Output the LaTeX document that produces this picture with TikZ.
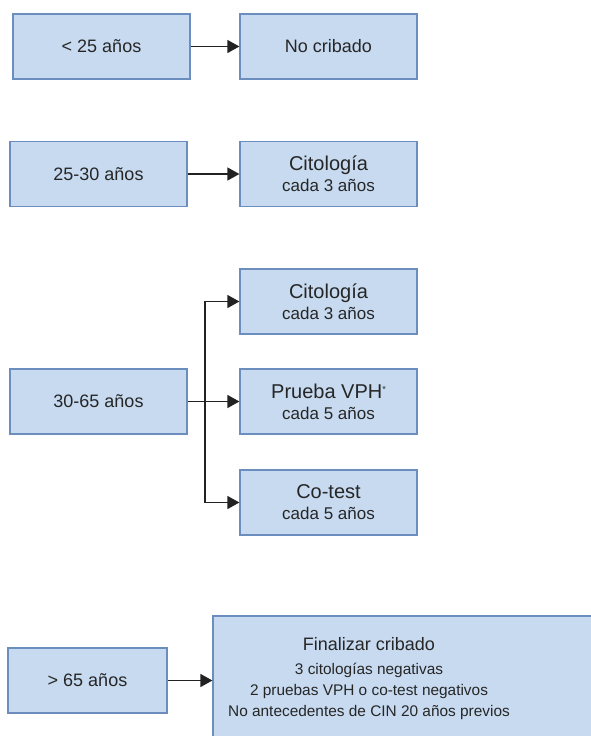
\documentclass[tikz,border=0pt]{standalone}
\usepackage{fontspec}
\setmainfont{Liberation Sans}
\usetikzlibrary{arrows.meta}

\definecolor{cajafondo}{HTML}{C7DAF0}
\definecolor{cajaborde}{HTML}{6C8EBF}
\definecolor{linea}{HTML}{222222}

\tikzset{
  caja/.style={draw=cajaborde, fill=cajafondo, line width=1.2pt,
    minimum width=177pt, minimum height=65pt, inner sep=0pt,
    align=center, text=black!85, font=\fontsize{18}{22}\selectfont},
  flecha/.style={draw=linea, line width=1.3pt, -{Triangle[length=12pt,width=13pt]}},
}
\newcommand{\titulo}[1]{{\fontsize{20}{22}\selectfont #1}}
\newcommand{\detalle}[1]{{\fontsize{17}{20}\selectfont #1}}

\begin{document}
\begin{tikzpicture}[x=1pt,y=-1pt]
    \useasboundingbox (0,0) rectangle (590,736);
    \pgfmathsetmacro{\izq}{98.5}
    \pgfmathsetmacro{\der}{328.5}
    \pgfmathsetmacro{\rama}{205}

    % Grupos de edad
    \node[caja] (menos25) at (101.5,46.5) {< 25 años};
    \node[caja] (e2530) at (\izq,174) {25-30 años};
    \node[caja] (e3065) at (\izq,401.5) {30-65 años};
    \node[caja, minimum width=159pt] (mas65) at (87.5,680.5) {> 65 años};

    % Recomendaciones
    \node[caja] (nocrib) at (\der,46.5) {No cribado};
    \node[caja] (cito1) at (\der,174) {\titulo{Citología}\\[-1pt]\detalle{cada 3 años}};
    \node[caja] (cito2) at (\der,301.5) {\titulo{Citología}\\[-1pt]\detalle{cada 3 años}};
    \node[caja] (vph) at (\der,401.5) {\titulo{Prueba VPH\raisebox{6pt}{\fontsize{9}{9}\selectfont *}}\\[-1pt]\detalle{cada 5 años}};
    \node[caja] (cotest) at (\der,502.5) {\titulo{Co-test}\\[-1pt]\detalle{cada 5 años}};

    % Finalizar cribado
    \node[caja, minimum width=387pt, minimum height=134pt] (fin) at (406.5,683) {};
    \node[align=center, text=black!85, font=\fontsize{15.4}{21}\selectfont] (fintexto) at (369,679)
      {{\fontsize{18}{22}\selectfont Finalizar cribado}\\[3pt]
       3 citologías negativas\\
       2 pruebas VPH o co-test negativos\\
       No antecedentes de CIN 20 años previos};

    % Flechas
    \draw[flecha] (menos25) -- (nocrib);
    \draw[flecha] (e2530) -- (cito1);
    \coordinate (bif) at (\rama,401.5);
    \draw[flecha] (e3065) -- (vph);
    \draw[flecha] (bif) |- (cito2.west);
    \draw[flecha] (bif) |- (cotest.west);
    \draw[flecha] (mas65.east) -- (mas65.east -| fin.west);
\end{tikzpicture}
\end{document}
